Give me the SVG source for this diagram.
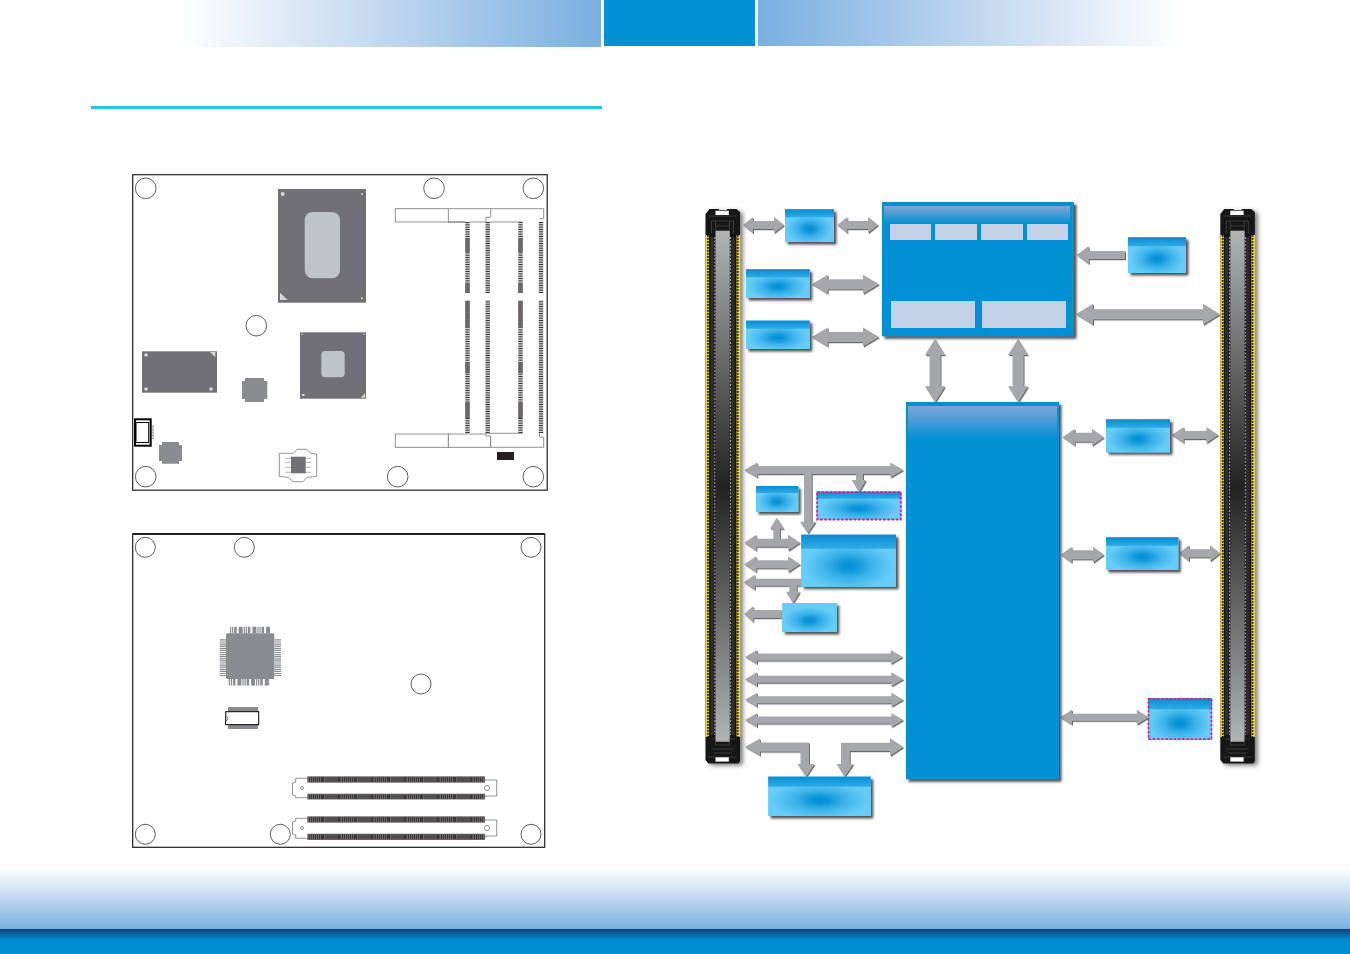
<svg xmlns="http://www.w3.org/2000/svg" xmlns:xlink="http://www.w3.org/1999/xlink" width="1350" height="954" viewBox="0 0 1350 954">
<style>
.hole{fill:#fff;stroke:#333;stroke-width:.8}
.board{fill:#fff;stroke:#1f1f1f;stroke-width:1.2}
.chip{fill:#717074}
.die{fill:#bfc4c7}
.mark{fill:#d6d8da}
.grey{fill:#898b8e}
.outl{fill:#fff;stroke:#777;stroke-width:.8}
.comb{stroke:#3a3637;fill:none;stroke-width:4.400;stroke-dasharray:1 .75}
.solid{stroke:#6b6768;fill:none;stroke-width:4.400}
.qcomb{fill:#6b6768}
.qteeth{stroke:#3a3637;fill:none;stroke-width:4.400;stroke-dasharray:1 1 1 1 1 1 1 1 1 1 1 1 3 1.500}
.base{fill:#66ccf8;filter:url(#boxShadow)}
.glow{fill:url(#glow)}
.band{fill:url(#band)}
.dash{fill:none;stroke:#d0218c;stroke-width:1.800;stroke-dasharray:2.600 1.600}
.lite{fill:#c3d2e6}
.arrow{fill:#a6a7aa}
.bluebg{fill:#0090d4;filter:url(#boxShadow)}
</style>
<defs>
<linearGradient id="hl" x1="0" x2="1" y1="0" y2="0"><stop offset="0" stop-color="#fff"/><stop offset=".45" stop-color="#c6daf0"/><stop offset="1" stop-color="#79b0e0"/></linearGradient>
<linearGradient id="hr" x1="1" x2="0" y1="0" y2="0"><stop offset="0" stop-color="#fff"/><stop offset=".45" stop-color="#c6daf0"/><stop offset="1" stop-color="#79b0e0"/></linearGradient>
<linearGradient id="fg" x1="0" x2="0" y1="0" y2="1"><stop offset="0" stop-color="#fff"/><stop offset=".5" stop-color="#c0d7ef"/><stop offset="1" stop-color="#79b0e0"/></linearGradient>
<linearGradient id="fd" x1="0" x2="0" y1="0" y2="1"><stop offset="0" stop-color="#16427a"/><stop offset=".44" stop-color="#008dd0"/><stop offset="1" stop-color="#008dd2"/></linearGradient>
<linearGradient id="hdr" x1="0" x2="0" y1="0" y2="1"><stop offset="0" stop-color="#80a6d8"/><stop offset="1" stop-color="#0090d4"/></linearGradient>
<radialGradient id="glow" cx=".5" cy=".6" r=".55"><stop offset="0" stop-color="#0090d4"/><stop offset=".15" stop-color="#0c96d8"/><stop offset=".45" stop-color="#3cb2ea"/><stop offset=".85" stop-color="#66ccf8"/></radialGradient>
<linearGradient id="band" x1="0" x2="0" y1="0" y2="1"><stop offset="0" stop-color="#0a8cd0"/><stop offset="1" stop-color="#2fabe8"/></linearGradient>
<linearGradient id="slot" x1="0" x2="0" y1="0" y2="1"><stop offset="0" stop-color="#b2b3b5"/><stop offset=".5" stop-color="#222"/><stop offset="1" stop-color="#b2b3b5"/></linearGradient>
<filter id="boxShadow" x="-15%" y="-15%" width="130%" height="130%"><feDropShadow dx="2.500" dy="2.500" stdDeviation="1" flood-color="#333" flood-opacity=".85"/></filter>
<filter id="arrowShadow" x="-5%" y="-5%" width="110%" height="110%"><feDropShadow dx="1" dy="1.200" stdDeviation=".5" flood-color="#444" flood-opacity=".8"/></filter>
<filter id="connShadow" x="-30%" y="-3%" width="160%" height="106%"><feDropShadow dx="3" dy="2" stdDeviation="2" flood-color="#444" flood-opacity=".7"/></filter>
<g id="edge">
<g filter="url(#connShadow)">
<path d="M0 5L4 0H13L14 1H21L22 0H31L34.500 3V552L33 554.500H3L0 551Z" fill="#171516"/>
</g>
<rect x="0" y="26" width="3.500" height="502" fill="#e8d62c"/>
<rect x="31" y="26" width="3.800" height="502" fill="#e8d62c"/>
<path d="M2.400 26V528M32.200 26V528" stroke="#1a1718" stroke-width="1.700" stroke-dasharray="1.700 1.300" fill="none"/>
<rect x="10" y="21.700" width="14.300" height="511" fill="url(#slot)"/>
<path d="M6.500 28V526M27.500 28V526" stroke="#2f2d2e" stroke-width="3.500" fill="none"/>
<path d="M9.300 28V526M25 28V526" stroke="#ddd" stroke-width=".7" stroke-dasharray="2 1.500" fill="none"/>
<rect x="10" y="1.700" width="13.300" height="4.300" fill="#fff"/>
<path d="M3 7H31M6 12H28M10 17H24M10 12V21M24 12V21M6 12V24M28 12V24" stroke="#555" stroke-width=".6" fill="none"/>
<path d="M5 530H10V536H24V530H29M6 540H28M8 544H26M3 548H31" stroke="#555" stroke-width=".6" fill="none"/>
<rect x="10" y="548.300" width="13.300" height="4.300" fill="#fff"/>
</g>
</defs>

<rect id="page" width="1350" height="954" fill="#fefefe"/>
<g id="header">
<rect x="178" y="0" width="423" height="47" fill="url(#hl)"/>
<rect x="604" y="0" width="151" height="46" fill="#0090d4"/>
<rect x="758" y="0" width="427" height="46" fill="url(#hr)"/>
<rect x="91" y="106" width="511" height="3" fill="#2cc4e4"/>
</g>
<g id="footer">
<rect x="0" y="868" width="1350" height="61" fill="url(#fg)"/>
<rect x="0" y="929" width="1350" height="25" fill="url(#fd)"/>
</g>

<g id="board-top">
<rect class="board" x="132.700" y="174.700" width="414.500" height="315.500"/>
<circle class="hole" cx="145.700" cy="188.300" r="10.300"/>
<circle class="hole" cx="434" cy="188.300" r="10.300"/>
<circle class="hole" cx="533.300" cy="188.300" r="10.300"/>
<circle class="hole" cx="256.300" cy="325.700" r="10.300"/>
<circle class="hole" cx="145.700" cy="476.700" r="10.300"/>
<circle class="hole" cx="397.700" cy="476.700" r="10.300"/>
<circle class="hole" cx="533.300" cy="476.700" r="10.300"/>
<g id="cpu">
<rect class="chip" x="278" y="189" width="88" height="113.700"/>
<rect class="die" x="304.700" y="212" width="35.300" height="66.300" rx="8"/>
<circle class="mark" cx="282.700" cy="194" r="2"/>
<circle class="mark" cx="362" cy="194" r="1"/>
<circle class="mark" cx="362" cy="298.300" r="1"/>
<path class="mark" d="M280 292.700V300H287.700Z"/>
</g>
<g id="pch">
<rect class="chip" x="300" y="332.300" width="66" height="66.400"/>
<rect class="die" x="321.300" y="351" width="23.400" height="26.300" rx="4"/>
<circle class="mark" cx="302" cy="334.300" r=".8"/>
<circle class="mark" cx="364" cy="334.300" r=".8"/>
<circle class="mark" cx="303.300" cy="395" r="1.300"/>
<path class="mark" d="M365 393.300V397.700H360.700Z"/>
</g>
<g id="chip-rect">
<rect class="chip" x="142" y="351.300" width="75" height="41.400"/>
<circle class="mark" cx="146" cy="355" r="1.800"/>
<circle class="mark" cx="146" cy="389" r="1.800"/>
<circle class="mark" cx="211" cy="389" r="1.800"/>
<path class="mark" d="M210 352H215.300V357.300Z"/>
</g>
<path id="oct1" class="grey" d="M245 378H264V381H267.300V399H264V402H245V399H242V381H245Z"/>
<path id="oct2" class="grey" d="M162 442H179V445H182V461H179V463.700H162V461H159V445H162Z"/>
<g id="switch">
<rect x="135" y="419.300" width="15.700" height="26.400" fill="#fff" stroke="#000" stroke-width="2"/>
<rect x="136" y="422.500" width="12.700" height="20" fill="#fff" stroke="#000" stroke-width="1"/>
<path d="M153 425.500V439" stroke="#aaa" stroke-width="2" stroke-dasharray="2 1" fill="none"/>
</g>
<g id="socket">
<path class="outl" d="M279.300 453.300L293.300 453.300L297 449.300H307L310.500 453.300L316.700 454V476.300L307 477.500L303 481.700H293L288.500 477.500L279.300 476.300Z"/>
<path d="M285 458.300H311M285 462.300H311M285 467.300H311M285 472.300H311" stroke="#999" stroke-width=".7" fill="none"/>
<rect class="chip" x="291" y="456.700" width="14.700" height="16.600"/>
</g>
<rect id="header-black" x="497" y="452" width="17" height="8" fill="#231f20"/>
<g id="sodimm">
<path class="comb" d="M467.500 222V293M467.500 300.700V433M487.700 222V293M487.700 300.700V433M520.500 222V293M520.500 300.700V433M541 222V293M541 300.700V433"/>
<path class="solid" d="M467.500 238V252M467.500 283V293M467.500 301V328M467.500 362V373M467.500 403V418M520.500 238V252M520.500 283V293M520.500 301V328M520.500 362V373M520.500 403V418"/>
<rect class="outl" x="395.300" y="208.700" width="53" height="13.300"/>
<path class="outl" d="M448.300 208.700H490.700V217.300H486V222H470M465.300 222H448.300Z"/>
<path d="M490.700 208.700H543.700V218.700H539.400M522.700 222H489.300" fill="#fff" stroke="#777" stroke-width=".8"/>
<rect class="outl" x="395.300" y="434" width="53" height="13.300"/>
<rect class="outl" x="448.300" y="434" width="42.400" height="13.300"/>
<path d="M490.700 447.300H543.700V437H539.500V433.300M522.700 433.300H486V436H490.700V447.300" fill="#fff" stroke="#777" stroke-width=".8"/>
</g>
</g>

<g id="board-bottom">
<rect class="board" x="132.700" y="534" width="412" height="313.300"/>
<path d="M132.700 534H544.700" stroke="#1f1f1f" stroke-width="2" fill="none"/>
<circle class="hole" cx="145.300" cy="547.300" r="10"/>
<circle class="hole" cx="244.300" cy="547.300" r="10"/>
<circle class="hole" cx="531" cy="547.300" r="10"/>
<circle class="hole" cx="421" cy="684" r="10"/>
<circle class="hole" cx="145.300" cy="834.300" r="10"/>
<circle class="hole" cx="280.300" cy="834.300" r="10"/>
<circle class="hole" cx="531" cy="834.300" r="10"/>
<g id="qfp">
<path d="M230 630H271M228.700 682.300H270" stroke="#898b8e" stroke-width="6.600" stroke-dasharray="1.200 .9 1.200 .9 2.500 2 4 1" fill="none"/>
<path d="M223 639.300V676M277.700 639.300V676" stroke="#898b8e" stroke-width="6.600" stroke-dasharray="1.200 .9" fill="none"/>
<rect class="grey" x="226" y="633.300" width="48.300" height="45.700" rx="1.500"/>
</g>
<g id="soic">
<rect class="grey" x="228" y="707" width="30" height="22"/>
<rect x="225.700" y="711.700" width="33" height="13" fill="#fff" stroke="#000" stroke-width="1"/>
<path d="M226 716.500A2 2 0 0 1 226 720.500" fill="none" stroke="#333" stroke-width=".6"/>
</g>
<g id="q7-a">
<path class="outl" d="M295.700 778.300H485V780H496.700V796H485V797.700H295.700V796L292.500 795V783L295.700 782Z"/>
<rect class="qcomb" x="307.300" y="776.300" width="177.700" height="6.400"/>
<rect class="qcomb" x="307.300" y="793.700" width="177.700" height="5.800"/>
<path class="qteeth" d="M309 779.500H483M309 796.600H483"/>
<circle class="outl" cx="302" cy="788" r="1.500"/>
<circle class="outl" cx="487" cy="788" r="2.600"/>
</g>
<g id="q7-b">
<path class="outl" d="M295.700 818.300H485V820H496.700V836H485V838.300H295.700V835L292.500 834V822L295.700 821Z"/>
<rect class="qcomb" x="307.300" y="816.300" width="177.700" height="6.400"/>
<rect class="qcomb" x="307.300" y="833.700" width="177.700" height="6.300"/>
<path class="qteeth" d="M309 819.500H483M309 836.800H483"/>
<circle class="outl" cx="302" cy="828" r="1.500"/>
<circle class="outl" cx="487" cy="828" r="2.600"/>
</g>
</g>

<g id="connectors" class="arrow" filter="url(#arrowShadow)">
<path d="M743 225L753 217V221H774V217L784 225L774 233V229H753V233Z"/>
<path d="M837.300 225L847.300 217V221H868V217L878 225L868 233V229H847.300V233Z"/>
<path d="M811.700 284.300L827.700 274.800V279.300H863V274.800L879 284.300L863 293.800V289.300H827.700V293.800Z"/>
<path d="M811.700 337L827.700 327.500V332H863V327.500L879 337L863 346.500V342H827.700V346.500Z"/>
<path d="M935 339L945 355H940.500V386.300H945L935 402.300L925 386.300H929.500V355H925Z"/>
<path d="M1018 339L1028 355H1023.500V386.300H1028L1018 402.300L1008 386.300H1012.500V355H1008Z"/>
<path d="M1076.700 255L1088.700 246V251H1125V259H1088.700V264Z"/>
<path d="M1076 314.300L1093 303.800V309.300H1203V303.800L1220 314.300L1203 324.800V319.300H1093V324.800Z"/>
<path d="M1062.700 437.300L1074.700 428.800V432.800H1092V428.800L1104 437.300L1092 445.800V441.800H1074.700V445.800Z"/>
<path d="M1171.700 435L1183.700 427V431H1206.300V427L1218.300 435L1206.300 443V439H1183.700V443Z"/>
<path d="M1060.700 554.700L1071.700 546.700V550.200H1093V546.700L1104 554.700L1093 562.700V559.200H1071.700V562.700Z"/>
<path d="M1179 553.300L1189 545.300V549.300H1210V545.300L1220 553.300L1210 561.300V557.300H1189V561.300Z"/>
<path d="M1060 717.300L1072 709.800V713.800H1136.700V709.800L1148.700 717.300L1136.700 724.800V720.800H1072V724.800Z"/>
<path d="M744.300 470L757.300 462.500V466H890.300V462.500L903.300 470L890.300 477.500V474H863V480H866L859 492.300L851.700 480H856V474H811.700V521.700H815.700L807.700 533.300L800 521.700H804V474H757.300V477.500Z"/>
<path d="M744.300 542.700L756.300 534.700V538.700H773.300V528.700H770L776.700 517.700L784 528.700H780V538.700H788V534.700L800 542.700L788 550.700V546.700H756.300V550.700Z"/>
<path d="M744.300 564.300L756.300 556.300V560.300H788V556.300L800 564.300L788 572.300V568.300H756.300V572.300Z"/>
<path d="M743.700 582.300L754.700 574.800V578.800H801V585.800H796.700V591.700H800L793 603.300L786 591.700H789.300V585.800H754.700V589.800Z"/>
<path d="M744.300 614L753.300 606V610H781.700V618H753.300V622Z"/>
<path d="M745 657L757 650V653.500H890.700V650L902.700 657L890.700 664V660.500H757V664Z"/>
<path d="M745 679.300L757 672.300V675.800H891.300V672.300L903.300 679.300L891.300 686.300V682.800H757V686.300Z"/>
<path d="M745 699.700L757 692.700V696.200H891.300V692.700L903.300 699.700L891.300 706.700V703.200H757V706.700Z"/>
<path d="M745 720L757 713V716.500H891.300V713L903.300 720L891.300 727V723.500H757V727Z"/>
<path d="M745 747L760 738.500V742.500H809V764H814.500L806 776.700L797.500 764H800.500V751.500H760V755.500Z"/>
<path d="M903.300 747L890 738.300V742.700H841V764H836.700L844.500 776.700L853.300 764H849.700V751H890V755.700Z"/>
</g>

<use id="edge-left" href="#edge" xlink:href="#edge" x="705.500" y="209"/>
<use id="edge-right" href="#edge" xlink:href="#edge" x="1220.300" y="209"/>

<g id="box-a"><rect class="base" x="785" y="209.300" width="49" height="32.700"/><rect class="glow" x="785" y="209.300" width="49" height="32.700"/><rect class="band" x="785" y="209.300" width="49" height="8"/></g>
<g id="box-b"><rect class="base" x="746" y="269.300" width="63.700" height="28.700"/><rect class="glow" x="746" y="269.300" width="63.700" height="28.700"/><rect class="band" x="746" y="269.300" width="63.700" height="8"/></g>
<g id="box-c"><rect class="base" x="746" y="320.700" width="63.700" height="28.300"/><rect class="glow" x="746" y="320.700" width="63.700" height="28.300"/><rect class="band" x="746" y="320.700" width="63.700" height="8"/></g>
<g id="box-d"><rect class="base" x="1128" y="237.300" width="58" height="35.700"/><rect class="glow" x="1128" y="237.300" width="58" height="35.700"/><rect class="band" x="1128" y="237.300" width="58" height="9"/></g>
<g id="box-e"><rect class="base" x="1106" y="419.300" width="64" height="33"/><rect class="glow" x="1106" y="419.300" width="64" height="33"/><rect class="band" x="1106" y="419.300" width="64" height="8.500"/></g>
<g id="box-f"><rect class="base" x="1106" y="537.300" width="72.300" height="32.700"/><rect class="glow" x="1106" y="537.300" width="72.300" height="32.700"/><rect class="band" x="1106" y="537.300" width="72.300" height="8.500"/></g>
<g id="box-g"><rect class="base" x="1148" y="698.300" width="64" height="41.400" style="filter:none"/><rect class="glow" x="1148" y="698.300" width="64" height="41.400"/><rect class="band" x="1148" y="698.300" width="64" height="11"/><rect class="dash" x="1148.500" y="698.800" width="63" height="40.400"/></g>
<g id="box-h"><rect class="base" x="756" y="486" width="42.300" height="26"/><rect class="glow" x="756" y="486" width="42.300" height="26"/><rect class="band" x="756" y="486" width="42.300" height="7"/></g>
<g id="box-i"><rect class="base" x="816.700" y="491.700" width="84.600" height="28.300" style="filter:none"/><rect class="glow" x="816.700" y="491.700" width="84.600" height="28.300"/><rect class="band" x="816.700" y="491.700" width="84.600" height="7"/><rect class="dash" x="817.200" y="492.200" width="83.600" height="27.300"/></g>
<g id="box-j"><rect class="base" x="801.300" y="534.700" width="94.700" height="52"/><rect class="glow" x="801.300" y="534.700" width="94.700" height="52"/><rect class="band" x="801.300" y="534.700" width="94.700" height="14"/></g>
<g id="box-k"><rect class="base" x="782.300" y="603" width="54.400" height="29"/><rect class="glow" x="782.300" y="603" width="54.400" height="29"/></g>
<g id="box-l"><rect class="base" x="768.300" y="776.700" width="102.400" height="39.300"/><rect class="glow" x="768.300" y="776.700" width="102.400" height="39.300"/><rect class="band" x="768.300" y="776.700" width="102.400" height="10"/></g>

<g id="cpu-block">
<rect class="bluebg" x="882" y="202" width="192" height="134.300"/>
<rect x="884" y="206" width="186" height="18" fill="url(#hdr)"/>
<rect class="lite" x="890" y="224" width="41" height="16"/>
<rect class="lite" x="935" y="224" width="42" height="16"/>
<rect class="lite" x="981" y="224" width="42" height="16"/>
<rect class="lite" x="1027" y="224" width="41" height="16"/>
<rect class="lite" x="891" y="301" width="84" height="27"/>
<rect class="lite" x="982" y="301" width="84" height="27"/>
</g>
<g id="pch-block">
<rect class="bluebg" x="906" y="402" width="153" height="377.300"/>
<rect x="908" y="406" width="149" height="34" fill="url(#hdr)"/>
</g>
</svg>
